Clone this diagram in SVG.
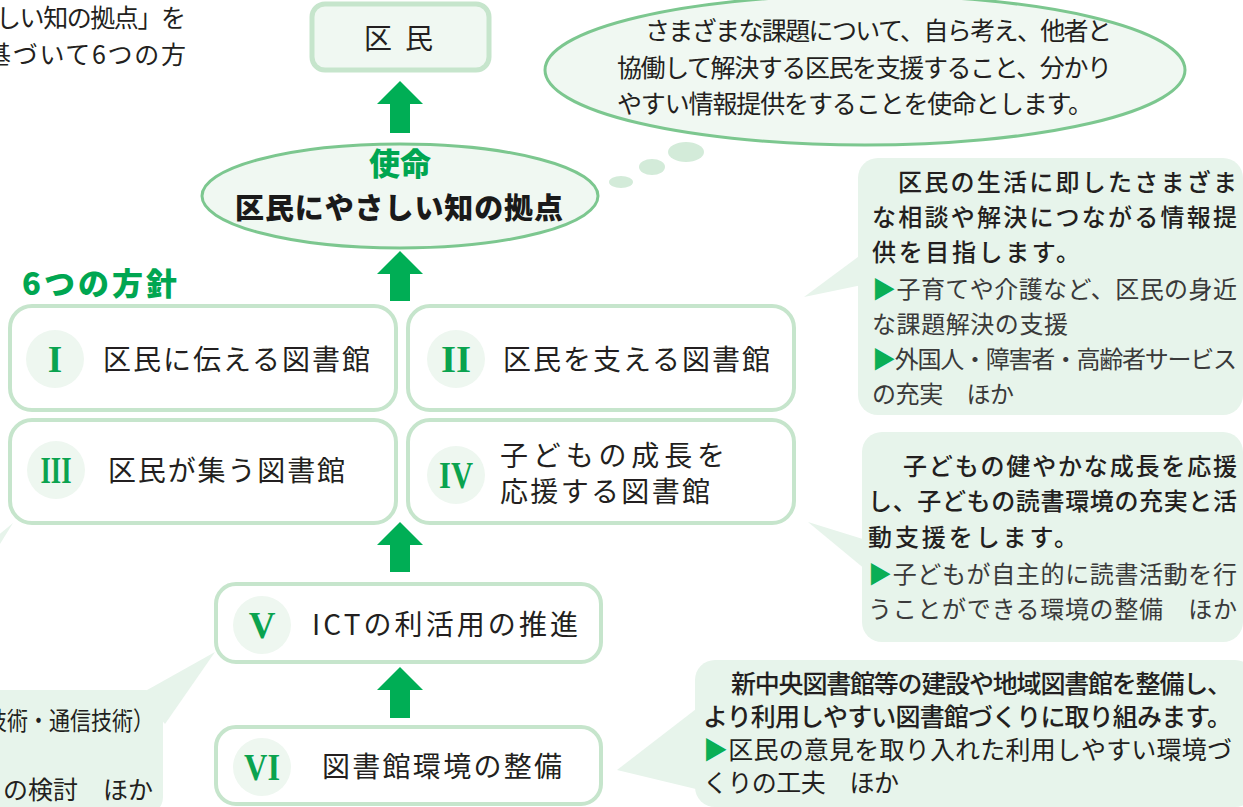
<svg xmlns="http://www.w3.org/2000/svg" width="1243" height="807" viewBox="0 0 1243 807">
<defs>
<style>
.jp{font-family:"Noto Sans CJK JP","Noto Sans CJK SC",sans-serif;}
.box{fill:#ffffff;stroke:#c6e5cc;stroke-width:4;}
.circ{fill:#eef7f0;}
.num{font-family:"Liberation Serif","DejaVu Serif",serif;font-weight:bold;fill:#0aa34f;font-size:37px;}
.bt{font-family:"Noto Sans CJK JP",sans-serif;font-size:28px;fill:#231f20;}
.call{fill:#e7f4eb;}
.ct{font-family:"Noto Sans CJK JP",sans-serif;font-size:24px;fill:#231f20;}
.ctb{font-weight:500;}
.ctl{fill:#3a3a3a;}
.cn{font-family:"Noto Sans CJK JP",sans-serif;font-size:25px;fill:#231f20;}
.tri{fill:#0aae55;}
.arrow{fill:#00ae55;}
</style>
</defs>
<rect width="1243" height="807" fill="#ffffff"/>

<!-- partial texts on the left edge -->
<g id="edge-text-top">
<text class="cn" x="-4" y="27" textLength="190" lengthAdjust="spacing" fill="#3a3a3a">しい知の拠点」を</text>
<text class="cn" x="-14" y="64" textLength="200" lengthAdjust="spacing" fill="#3a3a3a">基づいて6つの方</text>
</g>

<!-- callouts -->
<g id="callout-left">
<polygon class="call" points="215,652 140,694 165,724"/>
<rect class="call" x="-30" y="690" width="193" height="125" rx="18"/>
<text class="cn" x="-14" y="730" textLength="168" lengthAdjust="spacingAndGlyphs">技術・通信技術）</text>
<text class="cn" x="153" y="799" text-anchor="end">の検討　ほか</text>
</g>
<g id="callout-left-tail">
<polygon class="call" points="13,523 -10,542 -10,560"/>
</g>

<g id="callout-1">
<polygon class="call" points="804,297 862,254 862,285"/>
<rect class="call" x="858" y="158" width="385" height="257" rx="20"/>
<text class="ct ctb" x="898" y="191" textLength="339" lengthAdjust="spacing">区民の生活に即したさまざま</text>
<text class="ct ctb" x="872" y="226" textLength="365" lengthAdjust="spacing">な相談や解決につながる情報提</text>
<text class="ct ctb" x="872" y="261" textLength="208" lengthAdjust="spacing">供を目指します。</text>
<text class="ct ctl" x="872" y="298" textLength="365" lengthAdjust="spacing"><tspan class="tri">▶</tspan>子育てや介護など、区民の身近</text>
<text class="ct ctl" x="872" y="333" textLength="196" lengthAdjust="spacing">な課題解決の支援</text>
<text class="ct ctl" x="872" y="368" textLength="365" lengthAdjust="spacing"><tspan class="tri">▶</tspan>外国人・障害者・高齢者サービス</text>
<text class="ct ctl" x="872" y="403" textLength="142" lengthAdjust="spacing">の充実　ほか</text>
</g>

<g id="callout-2">
<polygon class="call" points="808,522 866,540 866,570"/>
<rect class="call" x="862" y="432" width="381" height="210" rx="20"/>
<text class="ct ctb" x="903" y="475" textLength="334" lengthAdjust="spacing">子どもの健やかな成長を応援</text>
<text class="ct ctb" x="868" y="510" textLength="369" lengthAdjust="spacing">し、子どもの読書環境の充実と活</text>
<text class="ct ctb" x="868" y="546" textLength="210" lengthAdjust="spacing">動支援をします。</text>
<text class="ct ctl" x="868" y="583" textLength="369" lengthAdjust="spacing"><tspan class="tri">▶</tspan>子どもが自主的に読書活動を行</text>
<text class="ct ctl" x="868" y="618" textLength="369" lengthAdjust="spacing">うことができる環境の整備　ほか</text>
</g>

<g id="callout-3">
<polygon class="call" points="617,770 700,706 700,790"/>
<rect class="call" x="695" y="660" width="560" height="147" rx="20"/>
<text class="cn" x="731" y="693" textLength="501" lengthAdjust="spacing" font-weight="500">新中央図書館等の建設や地域図書館を整備し、</text>
<text class="cn" x="703" y="726" textLength="529" lengthAdjust="spacing" font-weight="500">より利用しやすい図書館づくりに取り組みます。</text>
<text class="cn" x="703" y="759" textLength="529" lengthAdjust="spacing" fill="#3a3a3a"><tspan class="tri">▶</tspan>区民の意見を取り入れた利用しやすい環境づ</text>
<text class="cn" x="703" y="792" textLength="196" lengthAdjust="spacing" fill="#3a3a3a">くりの工夫　ほか</text>
</g>

<!-- thought ellipse -->
<g id="mission-thought">
<ellipse cx="865" cy="70" rx="320" ry="75" fill="#f0f8f2" stroke="#7cc78f" stroke-width="3"/>
<ellipse cx="686" cy="152" rx="18" ry="10" fill="#d3ebd9"/>
<ellipse cx="652" cy="167" rx="13" ry="8" fill="#d3ebd9"/>
<ellipse cx="621" cy="182" rx="12" ry="6" fill="#d3ebd9"/>
<text class="cn" x="645" y="40" textLength="467" lengthAdjust="spacing">さまざまな課題について、自ら考え、他者と</text>
<text class="cn" x="617" y="77" textLength="495" lengthAdjust="spacing">協働して解決する区民を支援すること、分かり</text>
<text class="cn" x="617" y="113" textLength="476" lengthAdjust="spacing">やすい情報提供をすることを使命とします。</text>
</g>

<!-- top node -->
<g id="node-kumin">
<rect x="312" y="4" width="177" height="66" rx="13" fill="#f0f8f2" stroke="#c6e5cc" stroke-width="5"/>
<text class="bt" x="378" y="49" text-anchor="middle" font-size="30">区</text>
<text class="bt" x="419" y="49" text-anchor="middle" font-size="30">民</text>
</g>

<!-- mission ellipse -->
<g id="node-mission">
<ellipse cx="400" cy="196" rx="198" ry="52" fill="#f0f8f2" stroke="#7cc78f" stroke-width="3"/>
<text class="jp" x="400" y="175" text-anchor="middle" font-size="31" font-weight="900" fill="#00a651">使命</text>
<text class="jp" x="235" y="219" textLength="328" lengthAdjust="spacing" font-size="29" font-weight="900" fill="#1a1a1a">区民にやさしい知の拠点</text>
</g>

<g id="label-policies">
<text class="jp" x="22" y="295" textLength="155" lengthAdjust="spacing" font-size="31" font-weight="900" fill="#00a651">6つの方針</text>
</g>

<g id="node-1">
<rect class="box" x="10" y="306" width="386" height="104" rx="22"/>
<circle class="circ" cx="55" cy="359" r="29"/>
<text class="num" x="55" y="372" text-anchor="middle">I</text>
<text class="bt" x="103" y="370" textLength="267" lengthAdjust="spacing">区民に伝える図書館</text>
</g>
<g id="node-2">
<rect class="box" x="408" y="306" width="386" height="104" rx="22"/>
<circle class="circ" cx="456" cy="359" r="29"/>
<text class="num" x="456" y="372" text-anchor="middle" textLength="30" lengthAdjust="spacingAndGlyphs">II</text>
<text class="bt" x="503" y="370" textLength="267" lengthAdjust="spacing">区民を支える図書館</text>
</g>
<g id="node-3">
<rect class="box" x="10" y="420" width="386" height="103" rx="22"/>
<circle class="circ" cx="56" cy="470" r="29"/>
<text class="num" x="56" y="483" text-anchor="middle" textLength="31" lengthAdjust="spacingAndGlyphs">III</text>
<text class="bt" x="108" y="481" textLength="237" lengthAdjust="spacing">区民が集う図書館</text>
</g>
<g id="node-4">
<rect class="box" x="408" y="420" width="386" height="103" rx="22"/>
<circle class="circ" cx="456" cy="475" r="29"/>
<text class="num" x="456" y="488" text-anchor="middle" textLength="34" lengthAdjust="spacingAndGlyphs">IV</text>
<text class="bt" x="500" y="466" font-size="27" textLength="225" lengthAdjust="spacing">子どもの成長を</text>
<text class="bt" x="500" y="502" font-size="27" textLength="210" lengthAdjust="spacing">応援する図書館</text>
</g>
<g id="node-5">
<rect class="box" x="216" y="584" width="385" height="78" rx="20"/>
<circle class="circ" cx="262" cy="625" r="29"/>
<text class="num" x="262" y="638" text-anchor="middle">V</text>
<text class="bt" x="312" y="635" textLength="266" lengthAdjust="spacing">ICTの利活用の推進</text>
</g>
<g id="node-6">
<rect class="box" x="216" y="727" width="385" height="77" rx="20"/>
<circle class="circ" cx="262" cy="767" r="29"/>
<text class="num" x="262" y="780" text-anchor="middle" textLength="36" lengthAdjust="spacingAndGlyphs">VI</text>
<text class="bt" x="322" y="777" textLength="240" lengthAdjust="spacing">図書館環境の整備</text>
</g>

<g id="connectors">
<polygon class="arrow" points="400,81 423,104 410,104 410,133 390,133 390,104 377,104"/>
<polygon class="arrow" points="400,251 423,274 410,274 410,301 390,301 390,274 377,274"/>
<polygon class="arrow" points="400,522 423,545 410,545 410,572 390,572 390,545 377,545"/>
<polygon class="arrow" points="400,667 423,690 410,690 410,718 390,718 390,690 377,690"/>
</g>
</svg>
